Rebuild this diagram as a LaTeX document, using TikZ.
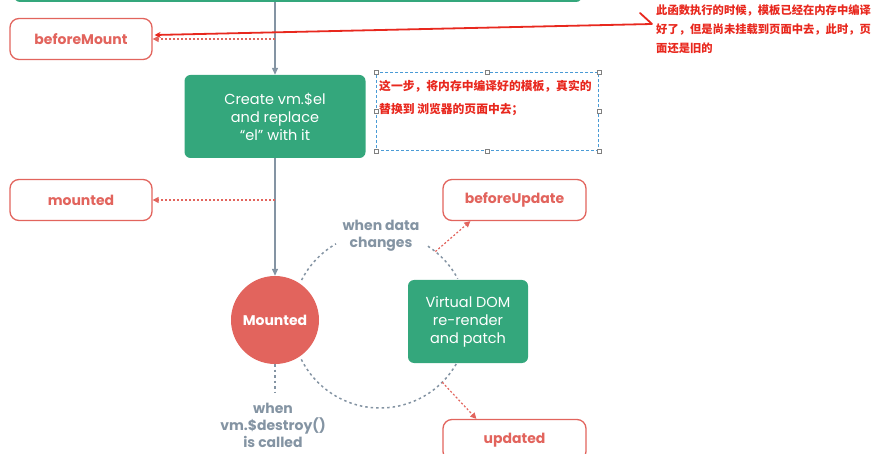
\documentclass[tikz,border=0pt]{standalone}
\usepackage{fontspec}
\setmainfont{Poppins}
\newfontfamily\cjk{Noto Sans CJK SC}
\usetikzlibrary{arrows.meta,calc}
\definecolor{vgreen}{HTML}{34A77C}
\definecolor{vred}{HTML}{E2645D}
\definecolor{vgrey}{HTML}{8494A3}
\definecolor{anno}{HTML}{E8281E}
\definecolor{hblue}{HTML}{4A9BD6}
\tikzset{
  hook/.style={draw=vred, line width=1.3pt, rounded corners=9pt, fill=white, text=vred,
    font=\bfseries\fontsize{14}{16}\selectfont, minimum width=142pt, minimum height=41pt, inner sep=0pt},
  gbox/.style={fill=vgreen, rounded corners=6pt, text=white, align=center,
    font=\fontsize{14.5}{18}\selectfont, inner sep=0pt},
  flow/.style={draw=vgrey, line width=1.3pt, -{Triangle[length=7pt,width=6pt]}},
  hookarr/.style={draw=vred, line width=1.2pt, dash pattern=on 2pt off 2pt, -{Triangle[length=6pt,width=6pt]}},
  cyc/.style={draw=vgrey, line width=1.5pt, dash pattern=on 2.5pt off 3pt},
  lbl/.style={text=vgrey, font=\bfseries\fontsize{14}{17}\selectfont, align=center, inner sep=0pt},
  note/.style={text=anno, font=\cjk\bfseries\fontsize{11.8}{23}\selectfont, align=left, inner sep=0pt, anchor=north west},
  handle/.style={draw=gray, fill=white, minimum size=4pt, inner sep=0pt, line width=0.5pt},
  annoline/.style={draw=anno, line width=1.8pt}
}
\begin{document}
\begin{tikzpicture}[x=1pt,y=-1pt]
\useasboundingbox (0,0) rectangle (894,454);
\clip (0,0) rectangle (894,454);

% top green box (cut off)
\node[gbox, minimum width=568pt, minimum height=40pt] (top) at (298,-18) {};
% hooks and boxes
\node[hook] (bm) at (81,39) {beforeMount};
\node[gbox, minimum width=181pt, minimum height=83pt] (create) at (275,116.5) {Create vm.\$el\\and replace\\“el” with it};
\node[hook] (mtd) at (81,200) {mounted};
\node[circle, fill=vred, minimum size=88pt, inner sep=0pt, text=white, font=\bfseries\fontsize{14}{16}\selectfont] (M) at (275,320) {Mounted};
\node[gbox, minimum width=120pt, minimum height=83pt] (vd) at (468,321.5) {Virtual DOM\\re-render\\and patch};
\node[hook, minimum width=143pt] (bu) at (514.5,200) {beforeUpdate};
\node[hook, minimum width=143pt] (up) at (514.5,440) {updated};

% main flow
\draw[flow] (create.north |- top.south) -- (create.north);
\draw[flow] (create.south) -- (M.north);

% hook arrows
\coordinate (j1) at (275,39);
\coordinate (j2) at (275,200);
\draw[hookarr] (j1) -- (bm.east);
\draw[hookarr] (j2) -- (mtd.east);

% update cycle
\coordinate (C) at (380,320);
\draw[cyc] (C) ++(207:88) arc[start angle=207, end angle=240, radius=88];
\draw[cyc] (C) ++(303:88) arc[start angle=303, end angle=332, radius=88];
\draw[cyc] (C) ++(30:88) arc[start angle=30, end angle=154, radius=88];
\path (C) ++(309:88) coordinate (p1);
\path (C) ++(45:88) coordinate (p2);
\draw[hookarr] (p1) -- ($(bu.south west)+(28,0)$);
\draw[hookarr] (p2) -- ($(up.north west)+(34,0)$);
\node[lbl] (wd) at (381,236) {when data\\changes};

% destroy
\coordinate (d1) at (275,393);
\draw[cyc] (M.south) -- (d1);
\node[lbl] (wdes) at (273,425) {when\\vm.\$destroy()\\is called};

% annotation box
\node[draw=hblue, dash pattern=on 3pt off 2pt, line width=0.8pt, minimum width=222pt, minimum height=78pt, inner sep=0pt, anchor=north west] (ab) at (376,72) {};
\foreach \a in {north west,north,north east,east,south east,south,south west,west}
  \node[handle] at (ab.\a) {};
\node[note] (t1) at (379,80) {这一步，将内存中编译好的模板，真实的\\替换到 浏览器的页面中去；};

% top-right annotation
\node[note, font=\cjk\bfseries\fontsize{11.3}{19}\selectfont] (t2) at (656,5) {此函数执行的时候，模板已经在内存中编译\\好了，但是尚未挂载到页面中去，此时，页\\面还是旧的};
\coordinate (r1) at (652,24);
\coordinate (r2) at (640,13);
\draw[annoline, -{Stealth[length=6pt,width=6pt]}] (r1) -- ($(bm.east)+(2,-4)$);
\draw[annoline, line cap=round] (r2) -- (r1);
\end{tikzpicture}
\end{document}
